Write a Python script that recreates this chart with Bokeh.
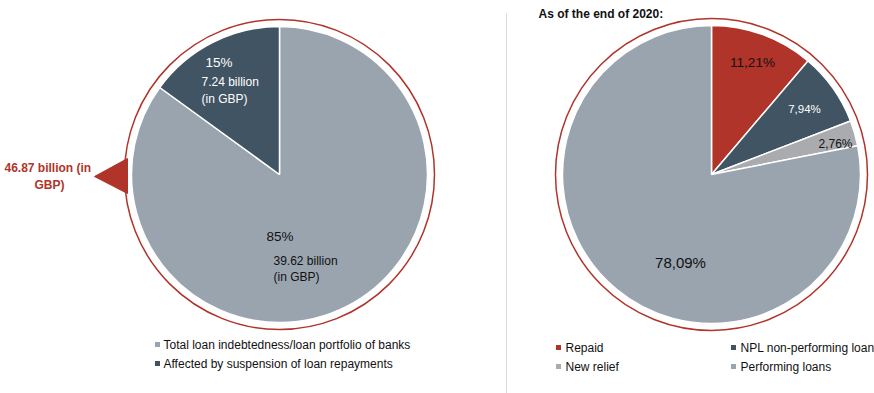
import numpy as np
from bokeh.plotting import figure
from bokeh.models import Range1d
from bokeh.core.properties import value
from bokeh.embed import file_html
from bokeh.resources import INLINE

# ---- data ----
left_categories = ["Total loan indebtedness/loan portfolio of banks",
                   "Affected by suspension of loan repayments"]
left_values = [85, 15]
left_amounts = ["39.62 billion\n(in GBP)", "7.24 billion\n(in GBP)"]
left_total = "46.87 billion  (in\nGBP)"

right_categories = ["Repaid", "NPL non-performing loan", "New relief", "Performing loans"]
right_values = [11.21, 7.94, 2.76, 78.09]
right_title = "As of the end of 2020:"

FONT = "Liberation Sans"
RED = "#B0342A"
SLATE = "#415463"
GRAY = "#9AA4AF"
LIGHT = "#A9ABAE"

left_colors = [GRAY, SLATE]
right_colors = [RED, SLATE, LIGHT, GRAY]

W, H = 874, 393
p = figure(width=W, height=H, output_backend="svg", toolbar_location=None,
           x_range=Range1d(0, W), y_range=Range1d(393 - H, 393),
           min_border=0)
p.axis.visible = False
p.grid.visible = False
p.outline_line_color = None
p.background_fill_color = "white"

def Y(sy):
    return 393 - sy

def wedges(cx, cy, r, vals, colors):
    v = np.array(vals, dtype=float)
    frac = v / v.sum()
    cum = np.concatenate([[0], np.cumsum(frac)])
    start = np.pi / 2 - 2 * np.pi * cum[:-1]
    end = np.pi / 2 - 2 * np.pi * cum[1:]
    p.wedge(x=[cx] * len(v), y=[cy] * len(v), radius=r, start_angle=list(start),
            end_angle=list(end), direction="clock", fill_color=colors,
            line_color="white", line_width=1.5)
    return start, end

# left pie
lcx, lcy, lr = 279, Y(174), 148
wedges(lcx, lcy, lr, left_values, left_colors)
p.circle(x=[lcx], y=[lcy], radius=155, fill_color=None, line_color=RED, line_width=1.5)

# right pie
rcx, rcy, rr = 711, Y(174), 149
wedges(rcx, rcy, rr, right_values, right_colors)
p.circle(x=[rcx], y=[rcy], radius=156, fill_color=None, line_color=RED, line_width=1.5)

# left labels
p.text(x=[205], y=[Y(62)], text=[f"{left_values[1]}%"], text_color="white",
       text_font=value(FONT), text_font_size="13.5px", text_baseline="middle")
p.text(x=[201], y=[Y(81)], text=[left_amounts[1]], text_color="white",
       text_font=value(FONT), text_font_size="12px", text_baseline="top",
       text_line_height=1.25, y_offset=-7)
p.text(x=[266], y=[Y(236)], text=[f"{left_values[0]}%"], text_color="#111111",
       text_font=value(FONT), text_font_size="13.5px", text_baseline="middle")
p.text(x=[273], y=[Y(260)], text=[left_amounts[0]], text_color="#111111",
       text_font=value(FONT), text_font_size="12px", text_baseline="top",
       text_line_height=1.2, y_offset=-7)

# arrow + total label
p.patch(x=[94, 127, 127], y=[Y(176), Y(158), Y(193)], fill_color=RED, line_color=RED)
p.text(x=[49], y=[Y(167)], text=[left_total], text_color=RED, text_font=value(FONT),
       text_font_style="bold", text_font_size="12px", text_align="center",
       text_baseline="top", text_line_height=1.25, y_offset=-7)

# right labels
fmt = lambda v: f"{v:.2f}".replace(".", ",") + "%"
r_pos = [(752, 62, "#111111", "13.5px"), (804, 108, "white", "11.5px"),
         (835, 143, "#111111", "12px"), (680, 262, "#111111", "15px")]
for val, (x, y, c, fs) in zip(right_values, r_pos):
    p.text(x=[x], y=[Y(y)], text=[fmt(val)], text_color=c, text_font=value(FONT),
           text_font_size=fs, text_align="center", text_baseline="middle")

# title
p.text(x=[538], y=[Y(13)], text=[right_title], text_font=value(FONT),
       text_font_style="bold", text_font_size="12px", text_baseline="middle",
       text_color="#111111")

# divider
p.segment(x0=[506], y0=[Y(13)], x1=[506], y1=[Y(393)], line_color="#D9D9D9", line_width=1)

# left legend
ly = [344, 363]
p.scatter(x=[157] * 2, y=[Y(v) for v in ly], marker="square", size=5,
          fill_color=left_colors, line_color=None)
p.text(x=[163] * 2, y=[Y(v) for v in ly], text=left_categories, text_font=value(FONT),
       text_font_size="12px", text_baseline="middle", text_color="#111111")

# right legend
rx = [558, 733, 558, 733]
ry = [347, 347, 366, 366]
p.scatter(x=rx, y=[Y(v) for v in ry], marker="square", size=5,
          fill_color=right_colors, line_color=None)
p.text(x=[v + 7 for v in rx], y=[Y(v) for v in ry], text=right_categories,
       text_font=value(FONT), text_font_size="12px", text_baseline="middle",
       text_color="#111111")

open("out.html", "w").write(file_html(p, INLINE))
